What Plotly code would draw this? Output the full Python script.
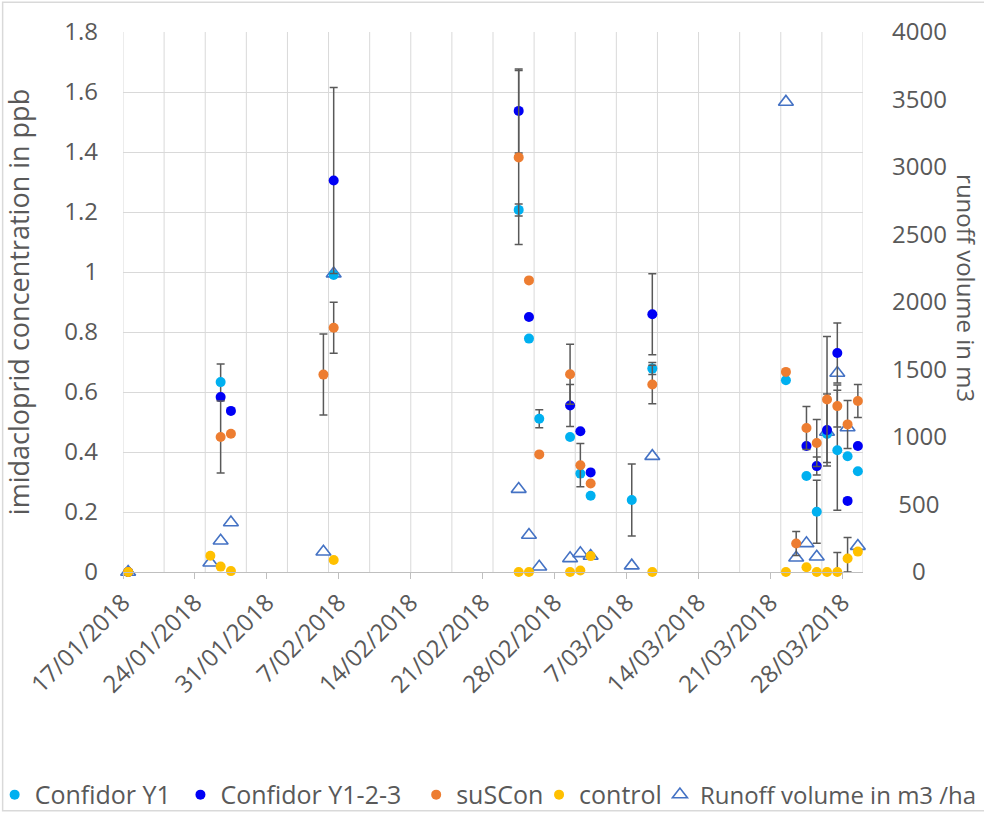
import pandas as pd
import plotly.graph_objects as go

# ---- sampling dates and measured values -------------------------------
conf_y1_dates = ["2018-01-17", "2018-01-26", "2018-02-06", "2018-02-24", "2018-02-25",
                 "2018-02-26", "2018-03-01", "2018-03-02", "2018-03-03", "2018-03-07",
                 "2018-03-09", "2018-03-22", "2018-03-24", "2018-03-25", "2018-03-26",
                 "2018-03-27", "2018-03-28", "2018-03-29"]
conf_y1_ppb = [0, 0.633, 0.99, 1.207, 0.778, 0.511, 0.450, 0.328, 0.254, 0.240,
               0.678, 0.639, 0.320, 0.201, 0.460, 0.406, 0.386, 0.336]
conf_y1_err = [None, 0.06, None, 0.02, None, 0.03, None, None, None, 0.12,
               0.02, None, None, 0.105, None, 0.20, None, None]

conf_y123_dates = ["2018-01-17", "2018-01-26", "2018-01-27", "2018-02-06", "2018-02-24",
                   "2018-02-25", "2018-03-01", "2018-03-02", "2018-03-03", "2018-03-09",
                   "2018-03-24", "2018-03-25", "2018-03-26", "2018-03-27", "2018-03-28",
                   "2018-03-29"]
conf_y123_ppb = [0, 0.583, 0.537, 1.305, 1.537, 0.850, 0.555, 0.469, 0.332, 0.859,
                 0.420, 0.353, 0.473, 0.730, 0.237, 0.420]
conf_y123_err = [None, None, None, 0.31, 0.14, None, 0.07, None, None, 0.135,
                 None, 0.03, 0.12, 0.10, None, None]

suscon_dates = ["2018-01-17", "2018-01-26", "2018-01-27", "2018-02-05", "2018-02-06",
                "2018-02-24", "2018-02-25", "2018-02-26", "2018-03-01", "2018-03-02",
                "2018-03-03", "2018-03-09", "2018-03-22", "2018-03-23", "2018-03-24",
                "2018-03-25", "2018-03-26", "2018-03-27", "2018-03-28", "2018-03-29"]
suscon_ppb = [0, 0.450, 0.461, 0.658, 0.814, 1.382, 0.972, 0.392, 0.659, 0.356,
              0.295, 0.625, 0.667, 0.095, 0.480, 0.430, 0.575, 0.553, 0.492, 0.570]
suscon_err = [None, 0.12, None, 0.135, 0.085, 0.29, None, None, 0.10, 0.072,
              None, 0.064, None, 0.04, 0.072, 0.078, 0.21, 0.07, 0.08, 0.055]

control_dates = ["2018-01-17", "2018-01-25", "2018-01-26", "2018-01-27", "2018-02-06",
                 "2018-02-24", "2018-02-25", "2018-03-01", "2018-03-02", "2018-03-03",
                 "2018-03-09", "2018-03-22", "2018-03-24", "2018-03-25", "2018-03-26",
                 "2018-03-27", "2018-03-28", "2018-03-29"]
control_ppb = [0, 0.054, 0.018, 0.003, 0.040, 0, 0, 0, 0.005, 0.053,
               0, 0, 0.016, 0, 0, 0, 0.045, 0.068]
control_err_plus = [None, None, None, None, None, None, None, None, None, None,
                    None, None, None, None, None, 0.065, 0.07, None]
control_err_minus = [None, None, None, None, None, None, None, None, None, None,
                     None, None, None, None, None, 0, 0.045, None]

runoff_dates = ["2018-01-17", "2018-01-25", "2018-01-26", "2018-01-27", "2018-02-05",
                "2018-02-06", "2018-02-24", "2018-02-25", "2018-02-26", "2018-03-01",
                "2018-03-02", "2018-03-03", "2018-03-07", "2018-03-09", "2018-03-22",
                "2018-03-23", "2018-03-24", "2018-03-25", "2018-03-26", "2018-03-27",
                "2018-03-28", "2018-03-29"]
runoff_m3 = [0, 69, 231, 367, 150, 2210, 614, 274, 39, 101,
             138, 118, 47, 858, 3482, 106, 212, 113, 1037, 1474,
             1070, 192]

date_labels = ["17/01/2018", "24/01/2018", "31/01/2018", "7/02/2018", "14/02/2018",
               "21/02/2018", "28/02/2018", "7/03/2018", "14/03/2018", "21/03/2018",
               "28/03/2018"]
runoff_ticks = [0, 500, 1000, 1500, 2000, 2500, 3000, 3500, 4000]

# ---- styling ---------------------------------------------------------
FONT = "Open Sans"
GREY_TXT = "#595959"
GRID = "#D9D9D9"
ERR = "#595959"

X_START = pd.Timestamp("2018-01-17")
X_END = pd.Timestamp("2018-03-30")

# plot area in pixels (used to place legends / annotations in paper units)
PL, PR, PT, PB = 122.5, 863.3, 31.7, 572.0


def px_x(px):
    return (px - PL) / (PR - PL)


def px_y(py):
    return (PB - py) / (PB - PT)


def day_centre(dates):
    # each sample sits in the middle of its calendar day
    return pd.to_datetime(dates) + pd.Timedelta(hours=12)


def err(plus, minus=None):
    d = dict(type="data", array=plus, visible=True, color=ERR, thickness=1.5, width=4)
    if minus is not None:
        d["symmetric"] = False
        d["arrayminus"] = minus
    return d


def centred(v, width=4):
    # pad with figure / punctuation spaces so the numbers sit centred in the column
    s = str(v)
    gap = width - len(s)
    return "\u2007" * (gap // 2) + "\u2008" * (gap % 2) + s


fig = go.Figure()

# runoff volume: base axis (right side), drawn beneath the concentration dots
fig.add_trace(go.Scatter(
    x=day_centre(runoff_dates), y=runoff_m3, mode="markers",
    name="Runoff volume in m3 /ha", yaxis="y", xaxis="x",
    marker=dict(symbol="triangle-up", size=13, color="white",
                line=dict(color="#4472C4", width=1.6)),
    cliponaxis=False, legend="legend5"))

series = [
    ("Confidor Y1", conf_y1_dates, conf_y1_ppb, err(conf_y1_err), "#00B0F0", "legend"),
    ("Confidor Y1-2-3", conf_y123_dates, conf_y123_ppb, err(conf_y123_err), "#0000F5", "legend2"),
    ("suSCon", suscon_dates, suscon_ppb, err(suscon_err), "#ED7D31", "legend3"),
    ("control", control_dates, control_ppb, err(control_err_plus, control_err_minus), "#FFC000", "legend4"),
]
for name, d, v, e, col, lg in series:
    fig.add_trace(go.Scatter(
        x=day_centre(d), y=v, mode="markers", name=name, yaxis="y2", xaxis="x",
        marker=dict(symbol="circle", size=10, color=col),
        error_y=e, cliponaxis=False, legend=lg))

tick_vals = pd.to_datetime(date_labels, format="%d/%m/%Y")

# one legend per entry so each can sit at its own spot along the bottom row
legend_text_px = [41, 227, 463, 586, 707]
legend_font_px = [25, 25, 25, 25, 24]
legend_names = ["legend", "legend2", "legend3", "legend4", "legend5"]
legend_layout = {}
for lg, tx, fs in zip(legend_names, legend_text_px, legend_font_px):
    legend_layout[lg] = dict(orientation="h", xanchor="left", yanchor="middle",
                             bgcolor="rgba(0,0,0,0)", borderwidth=0,
                             font=dict(family=FONT, size=fs, color=GREY_TXT),
                             x=px_x(tx - 47), y=px_y(795))

fig.update_layout(
    width=984, height=814,
    margin=dict(l=PL, r=984 - PR, t=PT, b=814 - PB, autoexpand=False),
    paper_bgcolor="white", plot_bgcolor="white",
    font=dict(family=FONT, color=GREY_TXT),
    showlegend=True,
    xaxis=dict(
        type="date", range=[X_START, X_END],
        tickmode="array", tickvals=tick_vals, ticktext=date_labels,
        tickangle=-45, ticks="outside", ticklen=6, tickcolor="#BFBFBF",
        showline=True, linecolor="#BFBFBF", linewidth=1,
        showgrid=False, zeroline=False,
        tickfont=dict(family=FONT, size=24, color=GREY_TXT)),
    yaxis=dict(
        side="right", range=[0, 4000],
        tickmode="array", tickvals=runoff_ticks,
        ticktext=[centred(t) for t in runoff_ticks],
        showgrid=False, zeroline=False, showline=False, ticks="",
        ticklabelstandoff=28,
        tickfont=dict(family=FONT, size=24, color=GREY_TXT)),
    yaxis2=dict(
        overlaying="y", side="left", range=[0, 1.8], dtick=0.2, tick0=0,
        showgrid=True, gridcolor=GRID, gridwidth=1,
        zeroline=False, showline=False, ticks="",
        ticklabelstandoff=24,
        tickfont=dict(family=FONT, size=24, color=GREY_TXT),
        title=dict(text="imidacloprid concentration in ppb", standoff=26,
                   font=dict(family=FONT, size=27, color=GREY_TXT))),
    **legend_layout,
)

# vertical gridlines every four days across the date range
for gx in pd.date_range(X_START, X_END, freq="4D"):
    fig.add_shape(type="line", xref="x", yref="paper", x0=gx, x1=gx, y0=0, y1=1,
                  line=dict(color=GRID, width=1), layer="below")

# secondary axis title along the right edge
fig.add_annotation(
    text="runoff volume in m3", xref="paper", yref="paper",
    x=px_x(986), y=px_y(288), textangle=90, showarrow=False,
    font=dict(family=FONT, size=24, color=GREY_TXT))

# chart-area frame
fig.add_shape(type="rect", xref="paper", yref="paper",
              x0=px_x(2), x1=px_x(1000), y0=px_y(811), y1=px_y(2),
              line=dict(color="#D9D9D9", width=1.5), fillcolor="rgba(0,0,0,0)",
              layer="below")

fig.write_html("out.html")
